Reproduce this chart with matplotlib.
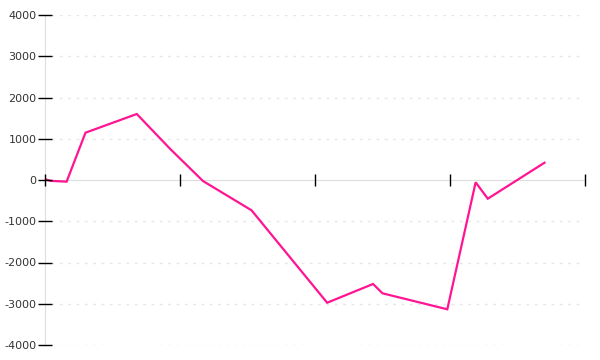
import matplotlib
matplotlib.use("Agg")
import matplotlib.pyplot as plt

# Data
x_vals = [0, 4, 16, 30, 68, 93, 117, 153, 209, 243, 250, 298, 319, 328, 370]
y_vals = [20, -20, -40, 1147, 1600, 744, -24, -735, -2975, -2521, -2747, -3134, -56, -453, 419]
x_ticks = [0, 100, 200, 300, 400]
y_ticks = [-4000, -3000, -2000, -1000, 0, 1000, 2000, 3000, 4000]

fig = plt.figure(figsize=(6, 3.6), dpi=100)
ax = fig.add_axes([45/600, 15/360, 540/600, 330/360])

ax.set_xlim(0, 400)
ax.set_ylim(-4000, 4000)

# grid lines (dashed, light), skip zero where the axis line sits
for yv in y_ticks:
    if yv != 0:
        ax.axhline(yv, xmin=0.012, xmax=0.996, color="#e6e6e6", lw=1,
                   ls=(0, (2, 4)), zorder=0)

ax.plot(x_vals, y_vals, color="#ff1493", lw=1.6, zorder=2,
        solid_joinstyle="miter")

for s in ["top", "right"]:
    ax.spines[s].set_visible(False)
ax.spines["bottom"].set_position(("data", 0))
ax.spines["bottom"].set_color("#dddddd")
ax.spines["left"].set_color("#dddddd")
ax.set_axisbelow(False)
ax.spines["bottom"].set_zorder(1)
ax.spines["left"].set_zorder(1)

ax.set_xticks(x_ticks)
ax.set_xticklabels([])
ax.tick_params(axis="x", direction="inout", length=9, width=1, color="black")

ax.set_yticks(y_ticks)
ax.set_yticklabels([str(v) for v in y_ticks])
ax.tick_params(axis="y", direction="inout", length=10, width=1, color="black",
               labelsize=8, labelcolor="#333333", pad=1)

fig.savefig("out.png", dpi=100)
